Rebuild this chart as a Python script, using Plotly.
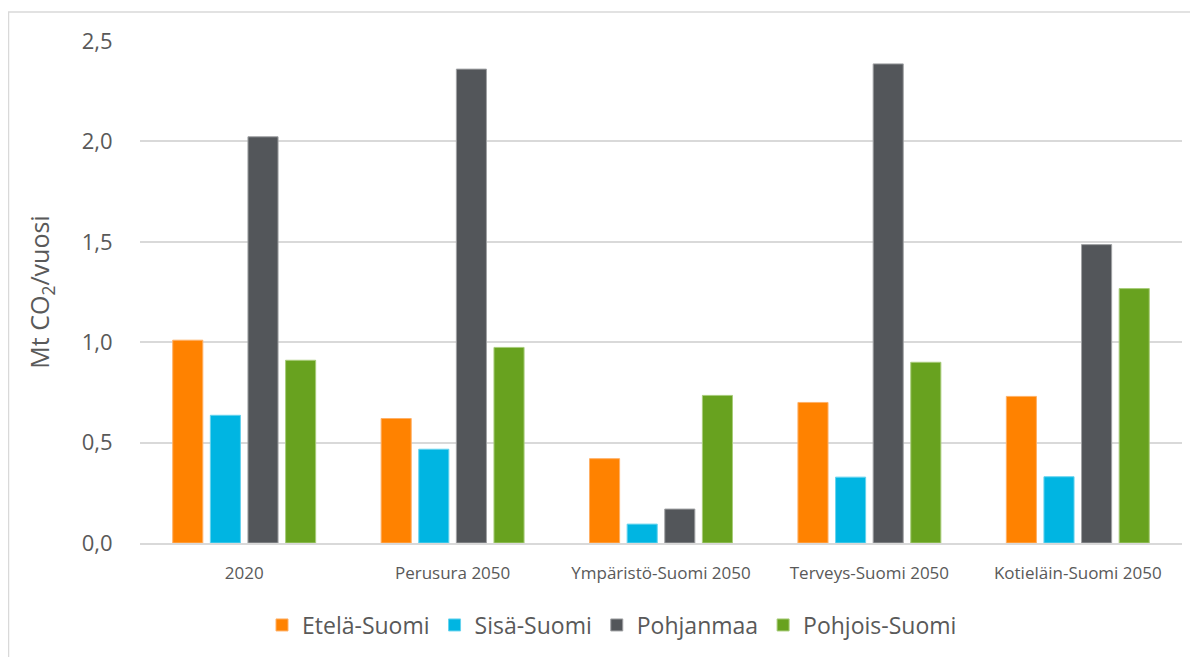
import plotly.graph_objects as go

SCENARIOS = ["2020", "Perusura 2050", "Ympäristö-Suomi 2050", "Terveys-Suomi 2050", "Kotieläin-Suomi 2050"]
ETELA_SUOMI = [1.01, 0.62, 0.42, 0.70, 0.73]
SISA_SUOMI = [0.636, 0.467, 0.094, 0.328, 0.33]
POHJANMAA = [2.023, 2.36, 0.169, 2.386, 1.486]
POHJOIS_SUOMI = [0.91, 0.974, 0.735, 0.90, 1.267]

SERIES = [
    ("Etelä-Suomi", ETELA_SUOMI, "#FF8200", "#FFB066"),
    ("Sisä-Suomi", SISA_SUOMI, "#00B5E2", "#66D3EE"),
    ("Pohjanmaa", POHJANMAA, "#53565A", "#A0A2A4"),
    ("Pohjois-Suomi", POHJOIS_SUOMI, "#68A21F", "#A8CC7A"),
]

FONT = "Open Sans, Noto Sans, Arial, sans-serif"
TEXT_GREY = "#595959"
GRID = "#D9D9D9"

fig = go.Figure()
for name, values, color, edge in SERIES:
    fig.add_trace(
        go.Bar(
            name=name,
            x=SCENARIOS,
            y=values,
            marker=dict(color=color, line=dict(color=edge, width=1)),
        )
    )

# the page body adds an 8px offset, so figure coords = screen coords - 8
OFF = 8
W, H = 1198 - OFF, 657 - OFF
left, right, top, bottom = 140 - OFF, 1182 - OFF, 41 - OFF, 544 - OFF
pw, ph = right - left, bottom - top

fig.update_layout(
    width=W,
    height=H,
    margin=dict(l=left, r=W - right, t=top, b=H - bottom),
    paper_bgcolor="#FFFFFF",
    plot_bgcolor="#FFFFFF",
    font=dict(family=FONT, color=TEXT_GREY),
    separators=", ",
    barmode="group",
    bargap=0.278,
    bargroupgap=0.2,
    legend=dict(
        orientation="h",
        x=(612 - OFF - left) / pw,
        xanchor="center",
        y=(bottom - (625 - OFF)) / ph,
        yanchor="middle",
        font=dict(size=23, color=TEXT_GREY),
        itemwidth=30,
    ),
    shapes=[
        dict(
            type="rect",
            xref="paper",
            yref="paper",
            x0=(0.5 - left) / pw,
            x1=(W + 5 - left) / pw,
            y0=(bottom - (H + 5)) / ph,
            y1=(bottom - 4) / ph,
            line=dict(color="#D9D9D9", width=1.5),
            layer="below",
        )
    ],
)

fig.update_xaxes(
    showgrid=False,
    showline=True,
    linecolor=GRID,
    linewidth=1.5,
    ticks="outside",
    ticklen=14,
    tickcolor="rgba(0,0,0,0)",
    tickfont=dict(size=17, color=TEXT_GREY),
)
fig.update_yaxes(
    range=[0, 2.5],
    dtick=0.5,
    tickformat=".1f",
    showgrid=True,
    gridcolor=GRID,
    gridwidth=1.5,
    zeroline=False,
    ticks="outside",
    ticklen=22,
    tickcolor="rgba(0,0,0,0)",
    tickfont=dict(size=22, color=TEXT_GREY),
    title=dict(text="Mt CO<sub>2</sub>/vuosi", font=dict(size=25, color=TEXT_GREY), standoff=24),
)

fig.write_html("out.html")
